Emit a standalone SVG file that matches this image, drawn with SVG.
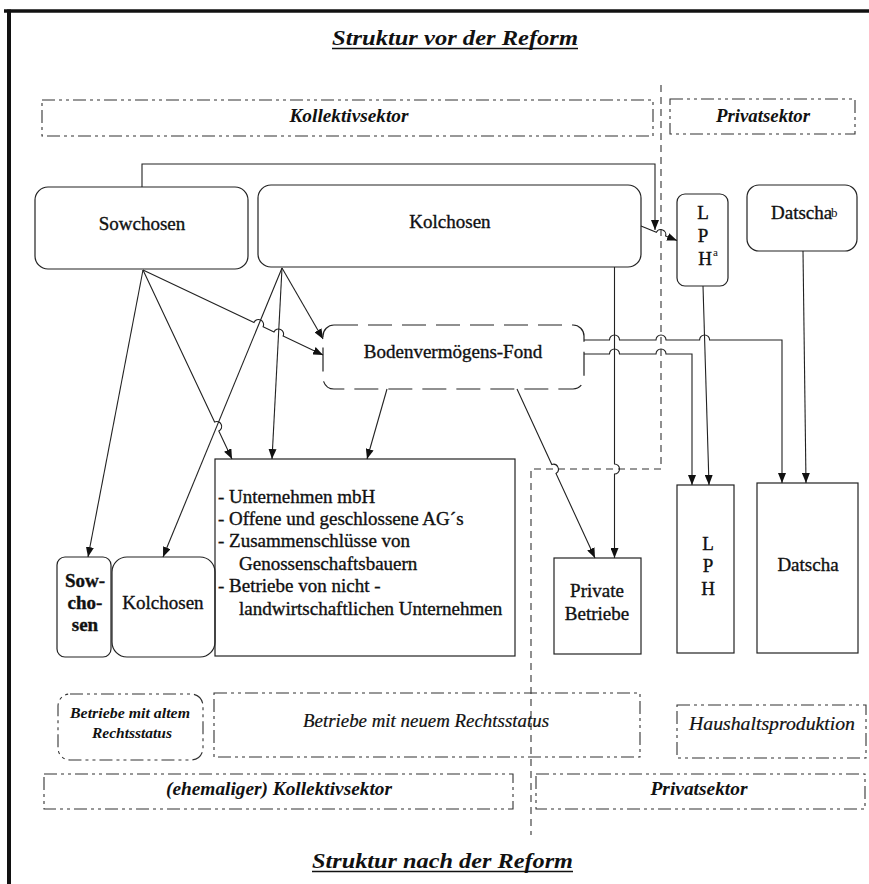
<svg xmlns="http://www.w3.org/2000/svg" width="869" height="884" viewBox="0 0 869 884">
<style>
text{font-family:"Liberation Serif","Times New Roman",serif;fill:#111}
.lbl{font-size:19px;stroke:#111;stroke-width:0.35}
.c{text-anchor:middle}
.title{font-size:22px;font-weight:bold;font-style:italic}
.sec{font-size:18px;font-weight:bold;font-style:italic}
.it{font-size:18px;font-style:italic;stroke:#111;stroke-width:0.2}
.box{fill:none;stroke:#222;stroke-width:1.2}
.sbox{fill:none;stroke:#333;stroke-width:1.1;stroke-dasharray:13 4 3 4 3 4}
.sep{fill:none;stroke:#333;stroke-width:1.1;stroke-dasharray:7 5}
.fond{fill:none;stroke:#222;stroke-width:1.2;stroke-dasharray:24 10}
.ln{fill:none;stroke:#222;stroke-width:1.1}
.ar{marker-end:url(#ah)}
.ul{stroke:#111;stroke-width:1.6}
</style>
<defs>
<marker id="ah" viewBox="0 0 10 8" refX="10" refY="4" markerWidth="10" markerHeight="8" markerUnits="userSpaceOnUse" orient="auto">
<path d="M0,0 L10,4 L0,8 z" fill="#111"/>
</marker>
</defs>
<rect width="869" height="884" fill="#fff"/>
<g id="frame">
<line x1="4" y1="11" x2="869" y2="11" stroke="#111" stroke-width="3.5"/>
<line x1="9" y1="9.5" x2="9" y2="884" stroke="#111" stroke-width="4"/>
</g>
<g id="title-top">
<text class="title" x="332" y="45" textLength="246" lengthAdjust="spacingAndGlyphs">Struktur vor der Reform</text>
<line class="ul" x1="332" y1="48.5" x2="578" y2="48.5"/>
</g>
<g id="title-bottom">
<text class="title" x="312" y="868" textLength="261" lengthAdjust="spacingAndGlyphs">Struktur nach der Reform</text>
<line class="ul" x1="312" y1="871.5" x2="573" y2="871.5"/>
</g>
<g id="separator">
<path class="sep" d="M661,85 L661,469 L531,469 L531,835"/>
</g>
<g id="sector-kollektiv-top">
<rect class="sbox" x="42" y="100" width="611" height="36"/>
<text class="sec c" x="349" y="122" textLength="119" lengthAdjust="spacingAndGlyphs">Kollektivsektor</text>
</g>
<g id="sector-privat-top">
<rect class="sbox" x="670" y="99" width="185" height="35"/>
<text class="sec c" x="763" y="122" textLength="94" lengthAdjust="spacingAndGlyphs">Privatsektor</text>
</g>
<g id="sector-altem">
<rect class="sbox" x="58" y="694" width="145" height="66" rx="12"/>
<text class="c" x="130" y="718" style="font-size:15px;font-style:italic;font-weight:bold" textLength="120" lengthAdjust="spacingAndGlyphs">Betriebe mit altem</text>
<text class="c" x="132" y="738" style="font-size:15px;font-style:italic;font-weight:bold" textLength="80" lengthAdjust="spacingAndGlyphs">Rechtsstatus</text>
</g>
<g id="sector-neuem">
<rect class="sbox" x="214" y="693" width="426" height="64"/>
<text class="it c" x="426" y="727" textLength="246" lengthAdjust="spacingAndGlyphs">Betriebe mit neuem Rechtsstatus</text>
</g>
<g id="sector-haushalt">
<rect class="sbox" x="677" y="705" width="189" height="53"/>
<text class="it c" x="772" y="730" textLength="166" lengthAdjust="spacingAndGlyphs">Haushaltsproduktion</text>
</g>
<g id="sector-kollektiv-bottom">
<rect class="sbox" x="44" y="774" width="469" height="35"/>
<text class="sec c" x="279" y="795" textLength="226" lengthAdjust="spacingAndGlyphs">(ehemaliger) Kollektivsektor</text>
</g>
<g id="sector-privat-bottom">
<rect class="sbox" x="536" y="774" width="329" height="35"/>
<text class="sec c" x="699" y="795" textLength="97" lengthAdjust="spacingAndGlyphs">Privatsektor</text>
</g>
<g id="sowchosen">
<rect class="box" x="35" y="187" width="213" height="82" rx="13"/>
<text class="lbl c" x="142" y="230">Sowchosen</text>
</g>
<g id="kolchosen">
<rect class="box" x="258" y="185" width="383" height="82" rx="13"/>
<text class="lbl c" x="450" y="228">Kolchosen</text>
</g>
<g id="lph-a">
<rect class="box" x="677" y="194" width="51" height="92" rx="8"/>
<text class="lbl c" x="703" y="219">L</text>
<text class="lbl c" x="703" y="242">P</text>
<text class="lbl c" x="705" y="265">H</text>
<text x="713" y="256" style="font-size:11px">a</text>
</g>
<g id="datscha-b">
<rect class="box" x="747" y="185" width="110" height="66" rx="12"/>
<text class="lbl" x="771" y="219">Datscha</text>
<text x="831" y="217" style="font-size:13px">b</text>
</g>
<g id="bodenfond">
<rect class="fond" x="323" y="325" width="261" height="64" rx="11"/>
<text class="lbl c" x="453" y="358">Bodenvermögens-Fond</text>
</g>
<g id="sowchosen-neu">
<rect class="box" x="57" y="557" width="54" height="100" rx="8"/>
<text class="lbl c" x="85" y="587" font-weight="bold">Sow-</text>
<text class="lbl c" x="85" y="609" font-weight="bold">cho-</text>
<text class="lbl c" x="85" y="631" font-weight="bold">sen</text>
</g>
<g id="kolchosen-neu">
<rect class="box" x="112" y="557" width="103" height="100" rx="15"/>
<text class="lbl c" x="163" y="609">Kolchosen</text>
</g>
<g id="neue-formen">
<rect class="box" x="215" y="459" width="300" height="197"/>
<text class="lbl" x="218" y="503">- Unternehmen mbH</text>
<text class="lbl" x="218" y="525">- Offene und geschlossene AG´s</text>
<text class="lbl" x="218" y="547">- Zusammenschlüsse von</text>
<text class="lbl" x="239" y="570">Genossenschaftsbauern</text>
<text class="lbl" x="218" y="592">- Betriebe von nicht -</text>
<text class="lbl" x="239" y="615">landwirtschaftlichen Unternehmen</text>
</g>
<g id="private-betriebe">
<rect class="box" x="554" y="558" width="87" height="96"/>
<text class="lbl c" x="597" y="597">Private</text>
<text class="lbl c" x="597" y="620">Betriebe</text>
</g>
<g id="lph">
<rect class="box" x="677" y="485" width="57" height="168"/>
<text class="lbl c" x="708" y="550">L</text>
<text class="lbl c" x="708" y="572">P</text>
<text class="lbl c" x="708" y="595">H</text>
</g>
<g id="datscha">
<rect class="box" x="757" y="483" width="101" height="170"/>
<text class="lbl c" x="808" y="571">Datscha</text>
</g>
<g id="connectors">
<path class="ln ar" d="M142,187 L142,164 L655,164 L655,230"/>
<path class="ln ar" d="M641,226 L656.4,232.2 A5,5 0 0 1 665.6,236 L677,240.6"/>
<path class="ln ar" d="M143,270 L88,557"/>
<path class="ln ar" d="M143,270 L214.6,422 A5,5 0 0 1 218.8,431.1 L232,459"/>
<path class="ln ar" d="M143,270 L254,322.4 A5,5 0 0 1 263.1,326.7 L274,331.9 A5,5 0 0 1 283.1,336.1 L323,355"/>
<path class="ln ar" d="M282,268 L163,557"/>
<path class="ln ar" d="M282,268 L272,459"/>
<path class="ln ar" d="M282,268 L323,339"/>
<path class="ln ar" d="M387,389 L367,459"/>
<path class="ln ar" d="M517,389 L551.8,464.5 A5,5 0 0 1 556,473.5 L595,558"/>
<path class="ln ar" d="M614.5,267 L614.5,464 A5,5 0 0 1 614.5,474 L614.5,558"/>
<path class="ln ar" d="M584,340 L609.5,340 A5,5 0 0 1 619.5,340 L656,340 A5,5 0 0 1 666,340 L699.6,340 A5,5 0 0 1 709.6,340 L782,340 L782,483"/>
<path class="ln ar" d="M584,354 L609.5,354 A5,5 0 0 1 619.5,354 L656,354 A5,5 0 0 1 666,354 L692,354 L692,485"/>
<path class="ln ar" d="M703,286 L709,485"/>
<path class="ln ar" d="M803,251 L806,483"/>
</g>
</svg>
